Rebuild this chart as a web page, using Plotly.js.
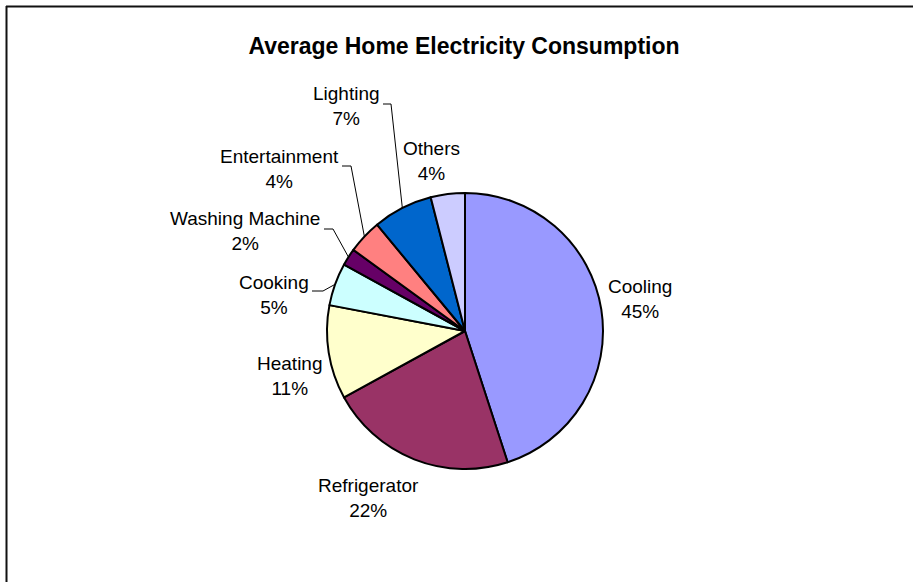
<!DOCTYPE html>
<html>
<head>
<meta charset="utf-8">
<script src="https://cdn.plot.ly/plotly-3.0.1.min.js"></script>
<style>html,body{margin:0;padding:0;background:#fff;}#chart{width:913px;height:582px;}</style>
</head>
<body>
<div id="chart"></div>
<script>
// ---- data ----
const categories = ['Cooling', 'Refrigerator', 'Heating', 'Cooking', 'Washing Machine', 'Entertainment', 'Lighting', 'Others'];
const shares = [45, 22, 11, 5, 2, 4, 7, 4];
const sliceColors = ['#9999FF', '#993366', '#FFFFCC', '#CCFFFF', '#660066', '#FF8080', '#0066CC', '#CCCCFF'];
const chartTitle = 'Average Home Electricity Consumption';

// ---- layout helpers (pixel geometry of the page) ----
const W = 913, H = 582;
const cx = 465, cy = 331, R = 138;
const px = x => x / W;
const py = y => 1 - y / H;

// label block centres (px) and leader elbows (px)
const labelPos = {
  'Cooling': [640, 299],
  'Refrigerator': [368, 498],
  'Heating': [290, 376],
  'Cooking': [274, 295],
  'Washing Machine': [245, 231],
  'Entertainment': [279, 169],
  'Lighting': [346, 106],
  'Others': [431, 161]
};
const leaders = {
  'Cooking': [312, 323, 291],
  'Washing Machine': [324, 333, 229],
  'Entertainment': [342, 351, 166],
  'Lighting': [383, 391, 104]
};

const total = shares.reduce((a, b) => a + b, 0);
let cum = 0;
const annotations = [];
const shapes = [];
categories.forEach((c, i) => {
  const mid = (cum + shares[i] / 2) / total * 2 * Math.PI;
  cum += shares[i];
  const pct = Math.round(shares[i] / total * 100) + '%';
  const p = labelPos[c];
  annotations.push({
    xref: 'paper', yref: 'paper', x: px(p[0]), y: py(p[1]),
    xanchor: 'center', yanchor: 'middle', showarrow: false, align: 'center',
    text: c + '<br>' + pct,
    font: {family: 'Liberation Sans, Arial, sans-serif', size: 19, color: '#000'}
  });
  if (leaders[c]) {
    const l = leaders[c];
    const ex = cx + R * Math.sin(mid), ey = cy - R * Math.cos(mid);
    shapes.push({
      type: 'path', xref: 'paper', yref: 'paper',
      path: `M ${px(l[0])} ${py(l[2])} L ${px(l[1])} ${py(l[2])} L ${px(ex)} ${py(ey)}`,
      line: {color: '#000', width: 1}
    });
  }
});

// frame
shapes.push({type: 'line', xref: 'paper', yref: 'paper', x0: px(6), x1: 1.01, y0: py(6.5), y1: py(6.5), line: {color: '#111', width: 2}});
shapes.push({type: 'line', xref: 'paper', yref: 'paper', x0: px(6.5), x1: px(6.5), y0: py(6), y1: -0.01, line: {color: '#111', width: 2}});

const trace = {
  type: 'pie',
  labels: categories,
  values: shares,
  sort: false,
  direction: 'clockwise',
  rotation: 0,
  textinfo: 'none',
  hoverinfo: 'none',
  marker: {colors: sliceColors, line: {color: '#000', width: 2}},
  domain: {x: [px(cx - R), px(cx + R)], y: [py(cy + R), py(cy - R)]},
  showlegend: false
};

const layout = {
  width: W, height: H,
  margin: {l: 0, r: 0, t: 0, b: 0},
  paper_bgcolor: '#fff',
  title: {
    text: '<b>' + chartTitle + '</b>',
    x: px(464), xanchor: 'center', y: py(46), yanchor: 'middle',
    font: {family: 'Liberation Sans, Arial, sans-serif', size: 23, color: '#000'}
  },
  annotations: annotations,
  shapes: shapes,
  showlegend: false
};

Plotly.newPlot('chart', [trace], layout, {staticPlot: true, displayModeBar: false});
</script>
</body>
</html>
